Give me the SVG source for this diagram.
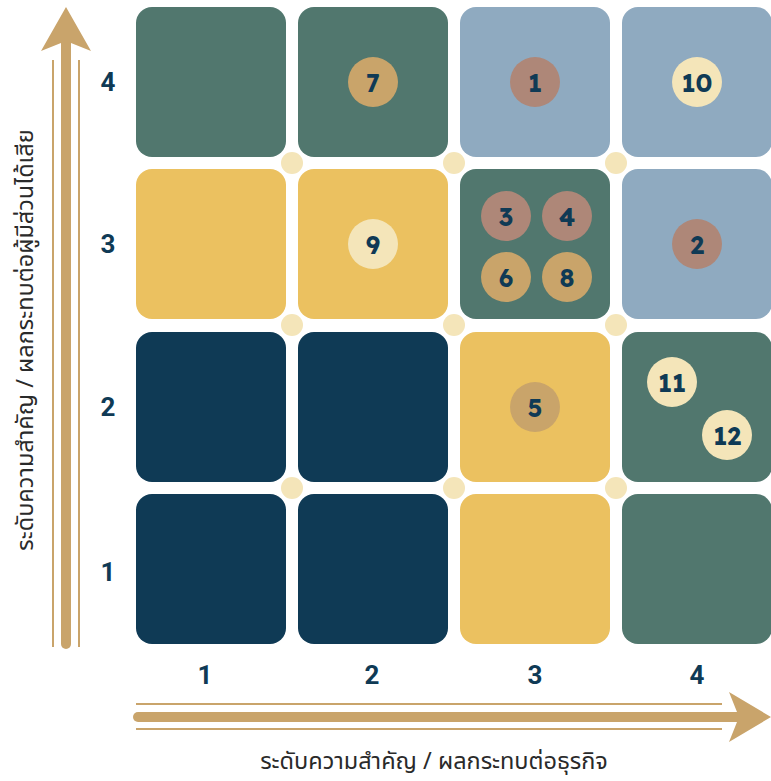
<svg xmlns="http://www.w3.org/2000/svg" width="771" height="781" viewBox="0 0 771 781">
<defs>
<style>
.teal{fill:#51776E}.blue{fill:#8FAAC0}.yel{fill:#EBC160}.navy{fill:#0F3A55}
.dot{fill:#F4E5B9}
.beige{fill:#F4E5B9}.tan{fill:#C9A46A}.rose{fill:#AE8778}
.num{font-family:"Lexend","Open Sans","Noto Sans",sans-serif;font-weight:700;font-size:25px;fill:#0F3A55;text-anchor:middle;dominant-baseline:central}
.ax{font-family:"Roboto","Liberation Sans",sans-serif;font-weight:700;font-size:26px;fill:#0F3A55;text-anchor:middle;dominant-baseline:central}
.lbl{font-family:"Noto Sans Thai","Noto Sans","DejaVu Sans",sans-serif;font-size:23.5px;fill:#2a2a2a;text-anchor:middle}
.arr{fill:#C9A46B}
.thin{stroke:#C9A46B;stroke-width:2;fill:none}
</style>
</defs>
<g id="axes">
<line class="thin" x1="53" y1="60" x2="53" y2="647"/>
<line class="thin" x1="79" y1="60" x2="79" y2="647"/>
<rect class="arr" x="61" y="38" width="10" height="611" rx="5"/>
<path class="arr" d="M66,7 L91,51 L71,43 L61,43 L41,51 Z"/>
<line class="thin" x1="136" y1="704" x2="722" y2="704"/>
<line class="thin" x1="136" y1="729" x2="722" y2="729"/>
<rect class="arr" x="133" y="712" width="612" height="10" rx="5"/>
<path class="arr" d="M771,717 L729,742 L737,722 L737,712 L729,692 Z"/>
<text class="ax" x="108" y="82">4</text>
<text class="ax" x="108" y="244">3</text>
<text class="ax" x="108" y="407">2</text>
<text class="ax" x="108" y="572">1</text>
<text class="ax" x="205" y="675">1</text>
<text class="ax" x="372" y="675">2</text>
<text class="ax" x="535" y="675">3</text>
<text class="ax" x="697" y="675">4</text>
<text class="lbl" x="434" y="769">ระดับความสำคัญ / ผลกระทบต่อธุรกิจ</text>
<text class="lbl" transform="translate(33,340) rotate(-90)">ระดับความสำคัญ / ผลกระทบต่อผู้มีส่วนได้เสีย</text>
</g>
<g id="dots">
<circle class="dot" cx="292" cy="163" r="11"/><circle class="dot" cx="454" cy="163" r="11"/><circle class="dot" cx="616" cy="163" r="11"/>
<circle class="dot" cx="292" cy="325" r="11"/><circle class="dot" cx="454" cy="325" r="11"/><circle class="dot" cx="616" cy="325" r="11"/>
<circle class="dot" cx="292" cy="488" r="11"/><circle class="dot" cx="454" cy="488" r="11"/><circle class="dot" cx="616" cy="488" r="11"/>
</g>
<g id="cells">
<rect id="c14" class="teal" x="136" y="7" width="150" height="150" rx="16"/>
<rect id="c24" class="teal" x="298" y="7" width="150" height="150" rx="16"/>
<rect id="c34" class="blue" x="460" y="7" width="150" height="150" rx="16"/>
<rect id="c44" class="blue" x="622" y="7" width="150" height="150" rx="16"/>
<rect id="c13" class="yel" x="136" y="169" width="150" height="150" rx="16"/>
<rect id="c23" class="yel" x="298" y="169" width="150" height="150" rx="16"/>
<rect id="c33" class="teal" x="460" y="169" width="150" height="150" rx="16"/>
<rect id="c43" class="blue" x="622" y="169" width="150" height="150" rx="16"/>
<rect id="c12" class="navy" x="136" y="332" width="150" height="150" rx="16"/>
<rect id="c22" class="navy" x="298" y="332" width="150" height="150" rx="16"/>
<rect id="c32" class="yel" x="460" y="332" width="150" height="150" rx="16"/>
<rect id="c42" class="teal" x="622" y="332" width="150" height="150" rx="16"/>
<rect id="c11" class="navy" x="136" y="494" width="150" height="150" rx="16"/>
<rect id="c21" class="navy" x="298" y="494" width="150" height="150" rx="16"/>
<rect id="c31" class="yel" x="460" y="494" width="150" height="150" rx="16"/>
<rect id="c41" class="teal" x="622" y="494" width="150" height="150" rx="16"/>
</g>
<g id="n7"><circle class="tan" cx="373" cy="82" r="25"/><text class="num" x="373" y="82">7</text></g>
<g id="n1"><circle class="rose" cx="535" cy="82" r="25"/><text class="num" x="535" y="82">1</text></g>
<g id="n10"><circle class="beige" cx="697" cy="82" r="25"/><text class="num" x="697" y="82">10</text></g>
<g id="n9"><circle class="beige" cx="373" cy="244" r="25"/><text class="num" x="373" y="244">9</text></g>
<g id="n3"><circle class="rose" cx="506" cy="216" r="25"/><text class="num" x="506" y="216">3</text></g>
<g id="n4"><circle class="rose" cx="567" cy="216" r="25"/><text class="num" x="567" y="216">4</text></g>
<g id="n6"><circle class="tan" cx="506" cy="277" r="25"/><text class="num" x="506" y="277">6</text></g>
<g id="n8"><circle class="tan" cx="567" cy="277" r="25"/><text class="num" x="567" y="277">8</text></g>
<g id="n2"><circle class="rose" cx="697" cy="244" r="25"/><text class="num" x="697" y="244">2</text></g>
<g id="n5"><circle class="tan" cx="535" cy="407" r="25"/><text class="num" x="535" y="407">5</text></g>
<g id="n11"><circle class="beige" cx="672" cy="382" r="25"/><text class="num" x="672" y="382">11</text></g>
<g id="n12"><circle class="beige" cx="727" cy="435" r="25"/><text class="num" x="727" y="435">12</text></g>
</svg>
